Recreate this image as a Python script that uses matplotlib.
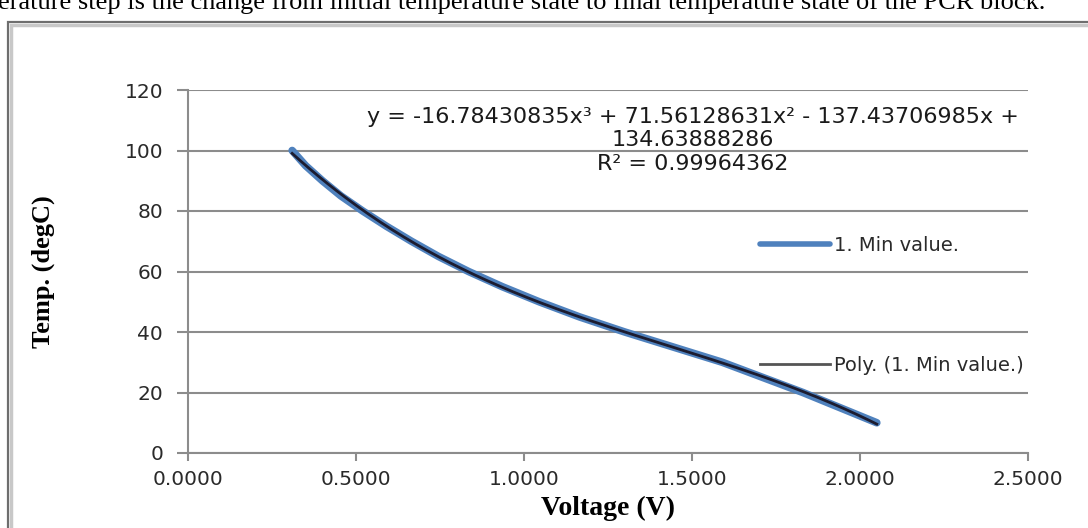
import numpy as np
import matplotlib
matplotlib.use("Agg")
import matplotlib.pyplot as plt
from matplotlib.patches import Rectangle

# ---- data ----
voltage = [0.31, 0.35, 0.40, 0.455, 0.52, 0.59, 0.665, 0.745, 0.835, 0.935,
           1.045, 1.165, 1.30, 1.445, 1.59, 1.71, 1.83, 1.94, 2.05]
temperature = [100, 95, 90, 85, 80, 75, 70, 65, 60, 55,
               50, 45, 40, 35, 30, 25, 20, 15, 10]
x_ticks = [0.0, 0.5, 1.0, 1.5, 2.0, 2.5]
y_ticks = [0, 20, 40, 60, 80, 100, 120]
series_label = "1. Min value."
trend_label = "Poly. (1. Min value.)"
equation_lines = ["y = -16.78430835x³ + 71.56128631x² - 137.43706985x +",
                  "134.63888286",
                  "R² = 0.99964362"]
caption = "erature step is the change from initial temperature state to final temperature state of the PCR block."

W, H = 1088, 528
fig = plt.figure(figsize=(W / 100, H / 100), dpi=100)
fig.patch.set_facecolor("white")

def fx(px):
    return px / W

def fy(py):
    return 1 - py / H

# cropped caption line at very top
fig.text(fx(-2), fy(9), caption, family="Liberation Serif", fontsize=19,
         color="black", va="baseline", ha="left")

# outer frame with a light shadow
fig.patches.append(Rectangle((fx(11), fy(H + 10)), fx(1100), fy(25) - fy(H + 10),
                             transform=fig.transFigure, fill=False,
                             edgecolor="#c8c8c8", linewidth=2.5, zorder=0))
fig.patches.append(Rectangle((fx(8), fy(H + 10)), fx(1100), fy(22) - fy(H + 10),
                             transform=fig.transFigure, fill=False,
                             edgecolor="#6e6e6e", linewidth=1.6, zorder=1))

ax = fig.add_axes([fx(188), fy(453), fx(1028) - fx(188), fy(90) - fy(453)])
ax.set_xlim(0, 2.5)
ax.set_ylim(0, 120)
ax.set_xticks(x_ticks)
ax.set_yticks(y_ticks)
ax.set_xticklabels([f"{v:.4f}" for v in x_ticks])
ax.set_yticklabels([str(v) for v in y_ticks])

grid_col = "#8c8c8c"
ax.grid(axis="y", color=grid_col, linewidth=1.5)
ax.set_axisbelow(True)
for s in ["top", "right"]:
    ax.spines[s].set_visible(False)
for s in ["left", "bottom"]:
    ax.spines[s].set_color(grid_col)
    ax.spines[s].set_linewidth(1.5)
ax.tick_params(axis="both", colors=grid_col, width=1.5, length=8, direction="out",
               labelsize=14.5, labelcolor="#2a2a2a")
ax.tick_params(axis="x", length=6, pad=6)
ax.tick_params(axis="y", pad=10)

v = np.array(voltage)
t = np.array(temperature)
ax.plot(v, t, color="#4f81bd", linewidth=5.5, solid_capstyle="round",
        label=series_label, zorder=3)
coef = np.polyfit(v, t, 3)
xs = np.linspace(v.min(), v.max(), 200)
ax.plot(xs, np.polyval(coef, xs), color="#1c1c30", linewidth=2,
        label=trend_label, zorder=4)

leg = ax.legend(loc="upper left",
                bbox_to_anchor=(fx(752 - 188) / (fx(1028) - fx(188)), (453 - 228) / 363),
                frameon=False, fontsize=14, labelspacing=5.2, handlelength=3.6,
                handletextpad=0.2, borderaxespad=0)
for txt in leg.get_texts():
    txt.set_color("#2a2a2a")
leg.get_lines()[0].set_linewidth(4)
leg.get_lines()[1].set_color("#555555")
leg.get_lines()[1].set_linewidth(2)

ax.set_xlabel("Voltage (V)", family="Liberation Serif", fontweight="bold",
              fontsize=20, labelpad=5)
ax.set_ylabel("Temp. (degC)", family="Liberation Serif", fontweight="bold",
              fontsize=19, labelpad=50)

for i, line in enumerate(equation_lines):
    fig.text(fx(693), fy(117 + 23.5 * i), line, fontsize=16, color="#1a1a1a",
             ha="center", va="center")

fig.savefig("out.png", dpi=100, facecolor="white")
